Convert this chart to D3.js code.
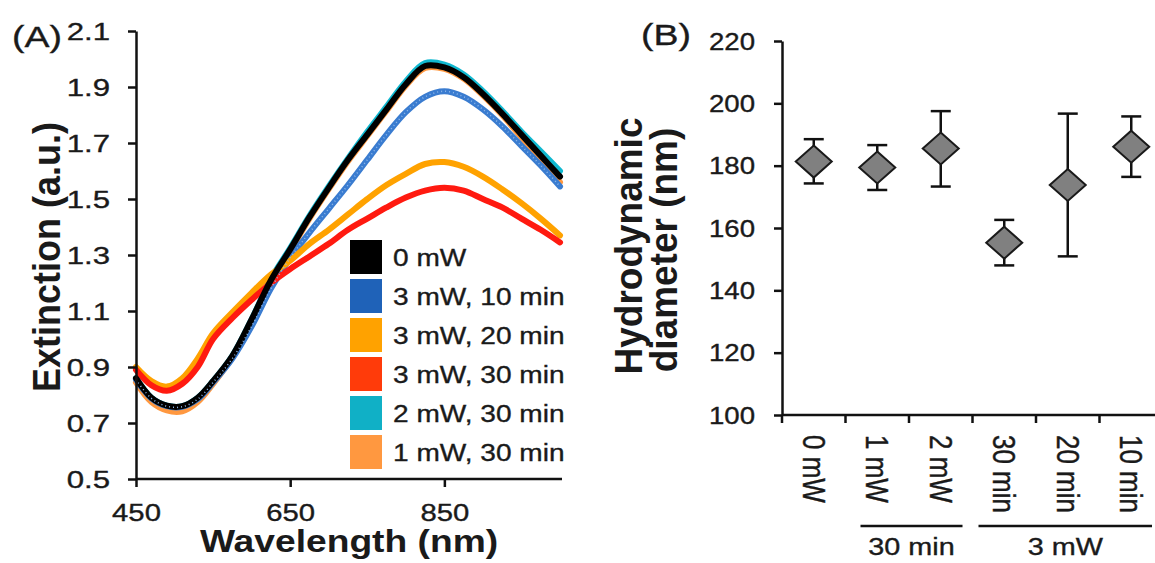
<!DOCTYPE html>
<meta charset="utf-8">
<style>
body { margin: 0; background: #fff; }
svg { display: block; }
text { font-family: 'Liberation Sans', Arial, sans-serif; fill: #1a1a1a; stroke: #1a1a1a; stroke-width: 0.35px; }
.axis path, .axis line { stroke: #111; stroke-width: 2.5px; }
.curve { fill: none; stroke-width: 6px; stroke-linejoin: round; stroke-linecap: round; }
</style>
<svg id="chart" width="1155" height="563"></svg>
<script src="https://d3js.org/d3.v7.min.js"></script>
<script>

// ---- panel A: extinction spectra ----
const wavelengths = [450, 470, 490, 510, 530, 550, 575, 600, 625, 650, 675, 700, 725, 750, 775, 800, 825, 850, 875, 900, 925, 950, 975, 1000];
const ext1mW30 = [0.845, 0.775, 0.745, 0.742, 0.775, 0.84, 0.935, 1.06, 1.205, 1.315, 1.43, 1.535, 1.635, 1.725, 1.815, 1.905, 1.968, 1.965, 1.93, 1.87, 1.80, 1.72, 1.64, 1.56];
const ext2mW30 = [0.86, 0.79, 0.762, 0.76, 0.79, 0.85, 0.94, 1.07, 1.215, 1.325, 1.44, 1.545, 1.645, 1.74, 1.83, 1.92, 1.985, 1.98, 1.945, 1.885, 1.815, 1.74, 1.67, 1.60];
const ext3mW10 = [0.855, 0.788, 0.76, 0.758, 0.785, 0.845, 0.93, 1.045, 1.18, 1.29, 1.38, 1.465, 1.55, 1.64, 1.73, 1.81, 1.865, 1.885, 1.865, 1.82, 1.76, 1.69, 1.62, 1.545];
const ext3mW20 = [0.90, 0.85, 0.83, 0.86, 0.93, 1.02, 1.095, 1.165, 1.23, 1.28, 1.34, 1.39, 1.445, 1.50, 1.55, 1.59, 1.625, 1.632, 1.615, 1.58, 1.535, 1.485, 1.43, 1.37];
const ext3mW30 = [0.89, 0.835, 0.815, 0.84, 0.90, 1.0, 1.075, 1.14, 1.20, 1.25, 1.295, 1.34, 1.39, 1.43, 1.47, 1.505, 1.53, 1.54, 1.53, 1.50, 1.47, 1.43, 1.39, 1.345];
const ext0mW = [0.86, 0.79, 0.762, 0.76, 0.79, 0.85, 0.94, 1.07, 1.21, 1.32, 1.435, 1.54, 1.64, 1.73, 1.82, 1.91, 1.975, 1.97, 1.935, 1.875, 1.805, 1.73, 1.655, 1.58];
const extTicks = [0.5, 0.7, 0.9, 1.1, 1.3, 1.5, 1.7, 1.9, 2.1];
const wlTicks = [450, 650, 850];
const legendLabels = ["0 mW", "3 mW, 10 min", "3 mW, 20 min", "3 mW, 30 min", "2 mW, 30 min", "1 mW, 30 min"];
const legendColors = ["#000000", "#1f62b8", "#ffa200", "#ff3b0a", "#10b0c6", "#ff9840"];

// ---- panel B: hydrodynamic diameter ----
const sizeCats = ["0 mW", "1 mW", "2 mW", "30 min", "20 min", "10 min"];
const sizeMean = [181.3, 179.4, 185.5, 155.3, 173.8, 186.1];
const sizeLow = [174.3, 172.2, 173.3, 148.0, 150.9, 176.4];
const sizeHigh = [188.5, 186.6, 197.5, 162.6, 196.7, 195.8];
const sizeTicks = [100, 120, 140, 160, 180, 200, 220];
const groupLabels = ["30 min", "3 mW"];

const svg = d3.select("#chart");

// text helper: horizontal stretch like the source picture
function label(g, str, x, y, size, opts) {
  opts = opts || {};
  const sx = opts.sx || 1.2;
  const rot = opts.rotate ? " rotate(" + opts.rotate + ")" : "";
  return g.append("text")
      .attr("transform", "translate(" + x + "," + y + ") scale(" + sx + ",1)" + rot)
      .attr("text-anchor", opts.anchor || "start")
      .attr("dy", opts.dy || null)
      .style("font-size", size + "px")
      .style("font-weight", opts.bold ? "bold" : null)
      .style("stroke-width", opts.bold ? "0" : null)
      .text(str);
}

// ============ panel A ============
const xA = d3.scaleLinear().domain([450, 1000]).range([136, 560]);
const yA = d3.scaleLinear().domain([0.5, 2.1]).range([479, 31]);

const line = d3.line()
    .x(function(d) { return xA(d[0]); })
    .y(function(d) { return yA(d[1]); })
    .curve(d3.curveCatmullRom.alpha(0.5));

function pts(vals) { return wavelengths.map(function(w, i) { return [w, vals[i]]; }); }

// drawing order: hidden ones first, black on top
const curves = [
  { vals: ext1mW30, color: "#ff9840" },
  { vals: ext2mW30, color: "#10b8d0" },
  { vals: ext3mW10, color: "#3a7cd0" },
  { vals: ext3mW20, color: "#ffa200" },
  { vals: ext3mW30, color: "#ff1a10" },
  { vals: ext0mW, color: "#000000" }
];

const gA = svg.append("g");
gA.selectAll("path.curve")
  .data(curves)
  .enter().append("path")
    .attr("class", "curve")
    .attr("stroke", function(d) { return d.color; })
    .attr("d", function(d) { return line(pts(d.vals)); });

// speckled look of the blue curve
gA.append("path")
    .attr("d", line(pts(ext3mW10)))
    .attr("fill", "none")
    .attr("stroke", "#8fb8ea")
    .attr("stroke-width", 1.5)
    .attr("stroke-dasharray", "1 3");

const axA = gA.append("g").attr("class", "axis")
    .attr("transform", "translate(136,0)")
    .call(d3.axisLeft(yA).tickValues(extTicks).tickFormat(d3.format(".1f")).tickSize(8).tickSizeOuter(0));
axA.selectAll("text")
    .style("font-size", "24px")
    .attr("x", -26 / 1.3)
    .attr("dy", "0.36em")
    .attr("transform", "scale(1.3,1)");

const axAx = gA.append("g").attr("class", "axis")
    .attr("transform", "translate(0,479)")
    .call(d3.axisBottom(xA).tickValues(wlTicks).tickSize(8).tickSizeOuter(0));
axAx.select(".domain").attr("d", "M136,0H562");
axAx.selectAll("text")
    .style("font-size", "24px")
    .attr("y", 42)
    .attr("dy", 0)
    .attr("transform", "scale(1.22,1)")
    .attr("x", 0);

label(gA, "Wavelength (nm)", 349, 552, 31, { anchor: "middle", bold: true });
label(gA, "Extinction (a.u.)", 60, 257, 36, { anchor: "middle", bold: true, sx: 1.08, rotate: -90 });
label(gA, "(A)", 12, 47, 30, { sx: 1.25 });

// legend
const leg = gA.append("g");
legendLabels.forEach(function(t, i) {
  const top = 240 + i * 39;
  leg.append("rect")
      .attr("x", 350).attr("y", top)
      .attr("width", 32).attr("height", 34)
      .attr("fill", legendColors[i]);
  label(leg, t, 393, top + 26, 24, { sx: 1.17 });
});

// ============ panel B ============
const xB = d3.scaleBand().domain(sizeCats).range([782, 1163]);
const yB = d3.scaleLinear().domain([100, 220]).range([415, 41]);
const gB = svg.append("g");

const axB = gB.append("g").attr("class", "axis")
    .attr("transform", "translate(782,0)")
    .call(d3.axisLeft(yB).tickValues(sizeTicks).tickSize(8).tickSizeOuter(0));
axB.selectAll("text")
    .style("font-size", "23px")
    .attr("x", -27 / 1.2)
    .attr("dy", "0.36em")
    .attr("transform", "scale(1.2,1)");

// category axis: ticks sit between categories
const axBx = gB.append("g").attr("class", "axis").attr("transform", "translate(0,415)");
axBx.append("line").attr("x1", 782).attr("x2", 1155).attr("y1", 0).attr("y2", 0);
axBx.selectAll("line.tk")
  .data(sizeCats)
  .enter().append("line")
    .attr("class", "tk")
    .attr("x1", function(d) { return xB(d); })
    .attr("x2", function(d) { return xB(d); })
    .attr("y1", 0).attr("y2", 8);

sizeCats.forEach(function(c) {
  const cx = xB(c) + xB.bandwidth() / 2;
  label(axBx, c, cx, 20, 26, { sx: 1.2, rotate: 90, dy: "0.35em" });
});

// group brackets
const groups = [
  { name: groupLabels[0], from: "1 mW", to: "2 mW", inL: 15, inR: 10 },
  { name: groupLabels[1], from: "30 min", to: "10 min", inL: 6, inR: 0 }
];
groups.forEach(function(g) {
  const x1 = xB(g.from) + g.inL;
  const x2 = Math.min(xB(g.to) + xB.bandwidth() - g.inR, 1152);
  gB.append("line")
      .attr("x1", x1).attr("x2", x2)
      .attr("y1", 526).attr("y2", 526)
      .attr("stroke", "#111").attr("stroke-width", 2.5);
  label(gB, g.name, (x1 + x2) / 2, 555, 24, { anchor: "middle" });
});

// error bars
const eb = gB.selectAll("g.eb")
  .data(sizeCats)
  .enter().append("g")
    .attr("class", "eb")
    .attr("transform", function(d) { return "translate(" + (xB(d) + xB.bandwidth() / 2) + ",0)"; });
eb.append("line")
    .attr("y1", function(d, i) { return yB(sizeLow[i]); })
    .attr("y2", function(d, i) { return yB(sizeHigh[i]); })
    .attr("stroke", "#111").attr("stroke-width", 2.5);
eb.append("line")
    .attr("x1", -10).attr("x2", 10)
    .attr("y1", function(d, i) { return yB(sizeHigh[i]); })
    .attr("y2", function(d, i) { return yB(sizeHigh[i]); })
    .attr("stroke", "#111").attr("stroke-width", 2.5);
eb.append("line")
    .attr("x1", -10).attr("x2", 10)
    .attr("y1", function(d, i) { return yB(sizeLow[i]); })
    .attr("y2", function(d, i) { return yB(sizeLow[i]); })
    .attr("stroke", "#111").attr("stroke-width", 2.5);
eb.append("path")
    .attr("d", function(d, i) {
      const y = yB(sizeMean[i]);
      return "M0," + (y - 16) + "L18," + y + "L0," + (y + 16) + "L-18," + y + "Z";
    })
    .attr("fill", "#808080")
    .attr("stroke", "#1a1a1a")
    .attr("stroke-width", 2);

label(gB, "Hydrodynamic", 642, 246, 37, { anchor: "middle", bold: true, sx: 1.05, rotate: -90 });
label(gB, "diameter (nm)", 677, 250, 37, { anchor: "middle", bold: true, sx: 1.05, rotate: -90 });
label(gB, "(B)", 641, 45, 30, { sx: 1.25 });

</script>
